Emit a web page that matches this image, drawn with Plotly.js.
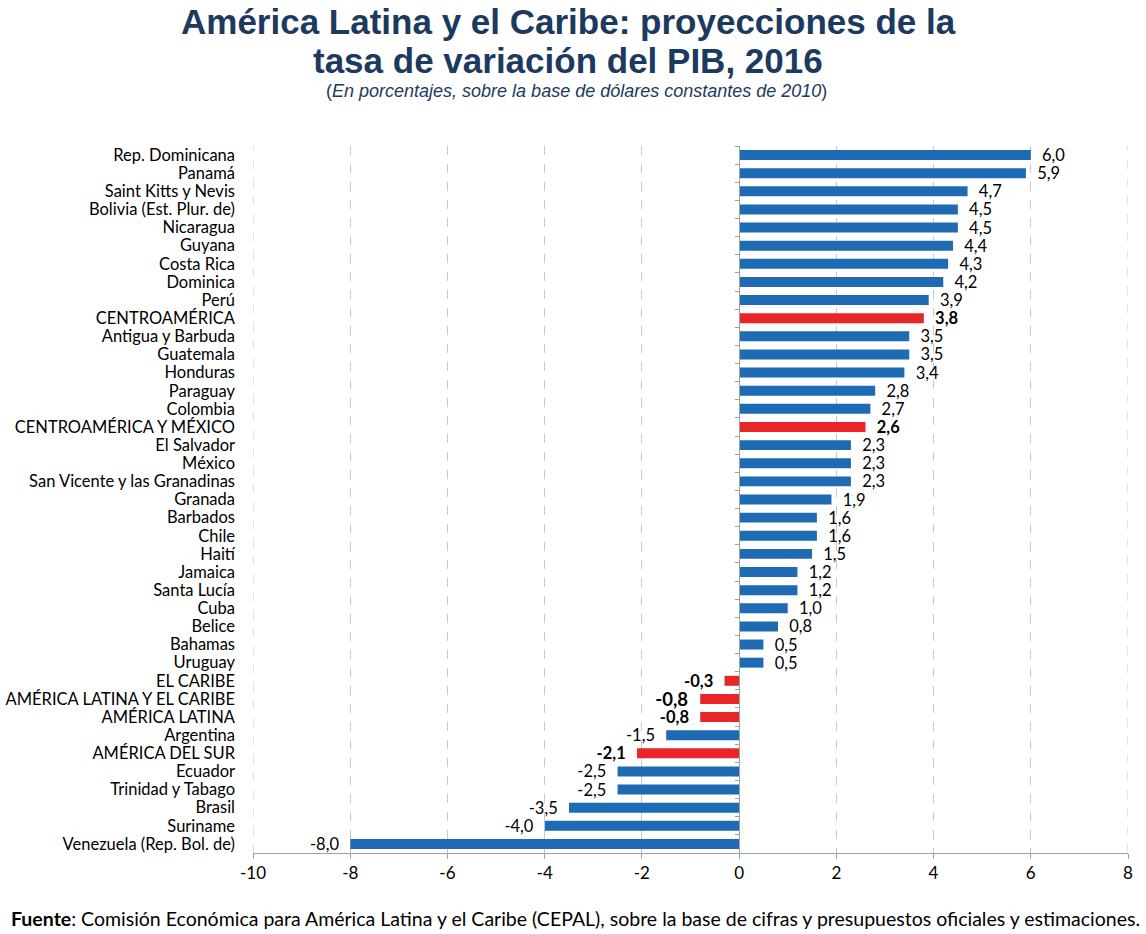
<!DOCTYPE html>
<html><head><meta charset="utf-8">
<script src="https://cdn.plot.ly/plotly-3.0.1.min.js"></script>
<style>body{margin:0;background:#fff}</style>
</head><body>
<div id="chart" style="width:1146px;height:934px"></div>
<script>
const categories = ["Rep. Dominicana","Panamá","Saint Kitts y Nevis","Bolivia (Est. Plur. de)","Nicaragua","Guyana","Costa Rica","Dominica","Perú","CENTROAMÉRICA","Antigua y Barbuda","Guatemala","Honduras","Paraguay","Colombia","CENTROAMÉRICA Y MÉXICO","El Salvador","México","San Vicente y las Granadinas","Granada","Barbados","Chile","Haití","Jamaica","Santa Lucía","Cuba","Belice","Bahamas","Uruguay","EL CARIBE","AMÉRICA LATINA Y EL CARIBE","AMÉRICA LATINA","Argentina","AMÉRICA DEL SUR","Ecuador","Trinidad y Tabago","Brasil","Suriname","Venezuela (Rep. Bol. de)"];
const values = [6.0,5.9,4.7,4.5,4.5,4.4,4.3,4.2,3.9,3.8,3.5,3.5,3.4,2.8,2.7,2.6,2.3,2.3,2.3,1.9,1.6,1.6,1.5,1.2,1.2,1.0,0.8,0.5,0.5,-0.3,-0.8,-0.8,-1.5,-2.1,-2.5,-2.5,-3.5,-4.0,-8.0];
const aggregates = ["CENTROAMÉRICA","CENTROAMÉRICA Y MÉXICO","EL CARIBE","AMÉRICA LATINA Y EL CARIBE","AMÉRICA LATINA","AMÉRICA DEL SUR"];
const xTicks = [-10,-8,-6,-4,-2,0,2,4,6,8];

const isAgg = categories.map(c => aggregates.includes(c));
const fmt = v => v.toFixed(1).replace('.', ',');
const pad = '\u2002';
const labels = values.map((v,i) => {
  const s = isAgg[i] ? '<b>' + fmt(v) + '</b>' : fmt(v);
  return v >= 0 ? pad + s : s + pad;
});
const colors = isAgg.map(a => a ? '#E8262A' : '#1F6BB3');
const textSizes = categories.map(c => c === "AMÉRICA LATINA Y EL CARIBE" ? 18.5 : 16.5);

const fontMain = 'Lato, "Open Sans", sans-serif';
const fontTitle = '"Liberation Sans", Arial, sans-serif';
const rng = [38.5, -0.5];
const T = 146, B = 81, H = 934, PH = H - T - B;
const py = y => (H - y - B) / PH;   // pixel y -> paper y
const px = x => (x - 253) / 875;    // pixel x -> paper x

const traces = [{
  type: 'bar', orientation: 'h',
  x: values, y: categories,
  marker: {color: colors, line: {width: 0}},
  width: 0.55,
  text: labels, textposition: 'outside', cliponaxis: false, constraintext: 'none',
  textfont: {family: fontMain, size: textSizes, color: '#000'},
  hoverinfo: 'x+y'
},{
  type: 'scatter', mode: 'markers', x: values.map(() => 0), y: categories,
  yaxis: 'y2', marker: {opacity: 0}, hoverinfo: 'skip', showlegend: false
}];

const layout = {
  width: 1146, height: 934,
  margin: {l: 253, r: 18, t: T, b: B},
  paper_bgcolor: '#fff', plot_bgcolor: '#fff',
  showlegend: false,
  font: {family: fontMain, color: '#000', size: 15},
  xaxis: {
    range: [-10, 8], tickvals: xTicks, ticktext: xTicks.map(String),
    showgrid: true, gridcolor: '#C8C8C8', griddash: 'dash', gridwidth: 1,
    zeroline: false, showline: true, linecolor: '#A0A0A0', linewidth: 1,
    ticks: 'outside', ticklen: 5, tickcolor: '#A0A0A0',
    tickfont: {family: fontMain, size: 17, color: '#000'}, fixedrange: true
  },
  yaxis: {
    type: 'category', categoryarray: categories, range: rng,
    tickmode: 'array', tickvals: categories, ticktext: categories,
    showgrid: false, zeroline: false, showline: false, ticks: '',
    tickfont: {family: fontMain, size: 16.5, color: '#000'}, ticklabelstandoff: 17
  },
  yaxis2: {
    type: 'category', categoryarray: categories, range: rng,
    overlaying: 'y', anchor: 'free', position: 10/18, side: 'left',
    showticklabels: false, showgrid: false, zeroline: false,
    showline: true, linecolor: '#A0A0A0', linewidth: 1,
    ticks: 'outside', ticklen: 4, tickcolor: '#A0A0A0', tickson: 'boundaries'
  },
  shapes: [-10, 8].map(v => ({
    type: 'line', xref: 'x', yref: 'paper', x0: v, x1: v, y0: 0, y1: 1,
    line: {color: '#C8C8C8', width: 1, dash: 'dash'}, layer: 'below'
  })),
  annotations: [{
    text: '<b>América Latina y el Caribe: proyecciones de la</b>',
    xref: 'paper', yref: 'paper', x: px(568), y: py(21), xanchor: 'center', yanchor: 'middle',
    showarrow: false, font: {family: fontTitle, size: 35, color: '#1B3A5E'}
  },{
    text: '<b>tasa de variación del PIB, 2016</b>',
    xref: 'paper', yref: 'paper', x: px(568), y: py(60), xanchor: 'center', yanchor: 'middle',
    showarrow: false, font: {family: fontTitle, size: 35, color: '#1B3A5E'}
  },{
    text: '(<i>En porcentajes, sobre la base de dólares constantes de 2010</i>)',
    xref: 'paper', yref: 'paper', x: px(576), y: py(91), xanchor: 'center', yanchor: 'middle',
    showarrow: false, font: {family: fontTitle, size: 18, color: '#1B3A5E'}
  },{
    text: '<b>Fuente</b>: Comisión Económica para América Latina y el Caribe (CEPAL), sobre la base de cifras y presupuestos oficiales y estimaciones.',
    xref: 'paper', yref: 'paper', x: px(9), y: py(918), xanchor: 'left', yanchor: 'middle',
    showarrow: false, font: {family: fontMain, size: 19.5, color: '#000'}
  }]
};
Plotly.newPlot('chart', traces, layout, {displayModeBar: false, staticPlot: true});
</script>
</body></html>
